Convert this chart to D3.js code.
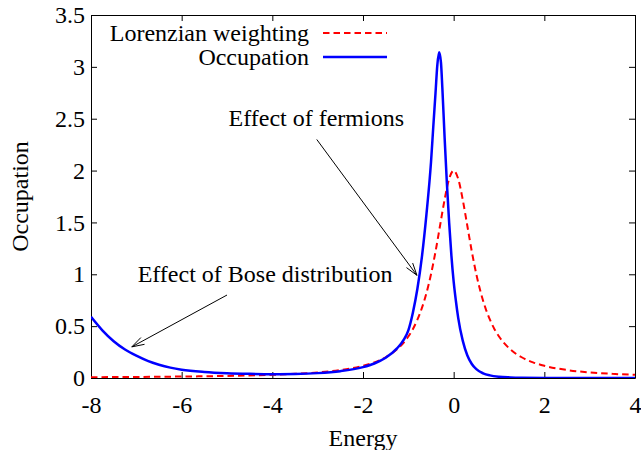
<!DOCTYPE html>
<html>
<head>
<meta charset="utf-8">
<script src="https://cdn.jsdelivr.net/npm/d3@7"></script>
<style>
  html, body { margin: 0; padding: 0; background: #fff; }
  svg { display: block; }
</style>
</head>
<body>
<svg id="chart" width="641" height="450"></svg>
<script>
// ---- data ----
const xTicks = [-8, -6, -4, -2, 0, 2, 4];
const xTickLabels = ["-8", "-6", "-4", "-2", "0", "2", "4"];
const yTicks = [0, 0.5, 1, 1.5, 2, 2.5, 3, 3.5];
const yTickLabels = ["0", "0.5", "1", "1.5", "2", "2.5", "3", "3.5"];

const seriesNames = ["Lorenzian weighting", "Occupation"];

const lorentzE = [-8, -7, -6, -5, -4, -3.5, -3, -2.5, -2, -1.75, -1.5, -1.25, -1, -0.9, -0.8, -0.7, -0.6, -0.5, -0.4, -0.3, -0.2, -0.1, 0,
                  0.1, 0.2, 0.3, 0.4, 0.5, 0.6, 0.7, 0.8, 0.9, 1, 1.25, 1.5, 1.75, 2, 2.5, 3, 3.5, 4];
const lorentzV = [0.008, 0.010, 0.014, 0.020, 0.031, 0.040, 0.054, 0.077, 0.118, 0.151, 0.200, 0.276, 0.400, 0.471, 0.562, 0.676, 0.820, 1.000, 1.220, 1.470, 1.720, 1.920, 2.000,
                  1.920, 1.720, 1.470, 1.220, 1.000, 0.820, 0.676, 0.562, 0.471, 0.400, 0.276, 0.200, 0.151, 0.118, 0.077, 0.054, 0.040, 0.031];

const occE = [-8, -7.75, -7.5, -7.25, -7, -6.75, -6.5, -6.25, -6, -5.5, -5, -4.5, -4, -3.5, -3, -2.5, -2, -1.75, -1.5, -1.25, -1.1, -1, -0.9, -0.8, -0.7, -0.6, -0.5,
              -0.45, -0.4, -0.36, -0.32, -0.28, -0.25, -0.2, -0.15, -0.1, -0.05, 0, 0.05, 0.1, 0.2, 0.3, 0.4, 0.5, 0.65, 0.8, 1, 1.25, 1.5, 2, 3, 4];
const occV = [0.59, 0.46, 0.355, 0.275, 0.215, 0.165, 0.128, 0.100, 0.080, 0.058, 0.046, 0.040, 0.037, 0.039, 0.047, 0.066, 0.105, 0.140, 0.195, 0.285, 0.370, 0.460, 0.630, 0.860, 1.170, 1.580, 2.080,
              2.420, 2.750, 3.020, 3.140, 3.040, 2.800, 2.320, 1.880, 1.500, 1.180, 0.930, 0.740, 0.580, 0.360, 0.220, 0.135, 0.085, 0.045, 0.025, 0.012, 0.006, 0.003, 0.001, 0.0003, 0.0001];

// annotations: text anchor (data coords) and arrows [fromE, fromV, toE, toV]
const noteTexts = ["Effect of fermions", "Effect of Bose distribution"];
const notePos = [[-3.03, 2.43], [-4.16, 0.93]];
const arrowFrom = [[-3.02, 2.30], [-5.0, 0.80]];
const arrowTo = [[-0.81, 0.99], [-7.10, 0.30]];

// ---- layout ----
const W = 641, H = 450;
const L = 91, R = 635, T = 15, B = 378;
const FONT = '"Liberation Serif", "Times New Roman", Times, serif';
const FS = 24;

const svg = d3.select("#chart");
svg.append("rect").attr("width", W).attr("height", H).attr("fill", "#fff");

const x = d3.scaleLinear().domain([-8, 4]).range([L, R]);
const y = d3.scaleLinear().domain([0, 3.5]).range([B, T]);

const styleAxis = g => {
  g.selectAll("path.domain").attr("stroke", "#000").attr("stroke-width", 1);
  g.selectAll(".tick line").attr("stroke", "#000").attr("stroke-width", 1);
  g.selectAll(".tick text").attr("fill", "#000").style("font-family", FONT).style("font-size", FS + "px");
};

svg.append("g").attr("transform", `translate(0,${B})`)
  .call(d3.axisBottom(x).tickValues(xTicks).tickFormat((d, i) => xTickLabels[i]).tickSizeInner(-6).tickSizeOuter(0).tickPadding(18))
  .call(styleAxis);
svg.append("g").attr("transform", `translate(0,${T})`)
  .call(d3.axisTop(x).tickValues(xTicks).tickFormat("").tickSizeInner(-6).tickSizeOuter(0))
  .call(styleAxis);
svg.append("g").attr("transform", `translate(${L},0)`)
  .call(d3.axisLeft(y).tickValues(yTicks).tickFormat((d, i) => yTickLabels[i]).tickSizeInner(-6).tickSizeOuter(0).tickPadding(6))
  .call(styleAxis);
svg.append("g").attr("transform", `translate(${R},0)`)
  .call(d3.axisRight(y).tickValues(yTicks).tickFormat("").tickSizeInner(-6).tickSizeOuter(0))
  .call(styleAxis);

// clip
svg.append("clipPath").attr("id", "plotclip")
  .append("rect").attr("x", L).attr("y", T).attr("width", R - L).attr("height", B - T);

const line = d3.line().x(d => x(d[0])).y(d => y(d[1])).curve(d3.curveMonotoneX);
const lorentzData = lorentzE.map((e, i) => [e, lorentzV[i]]);
const occData = occE.map((e, i) => [e, occV[i]]);

const plot = svg.append("g").attr("clip-path", "url(#plotclip)");
plot.append("path").datum(lorentzData).attr("d", line)
  .attr("fill", "none").attr("stroke", "#ff0000").attr("stroke-width", 2).attr("stroke-dasharray", "6.5,4");
plot.append("path").datum(occData).attr("d", line)
  .attr("fill", "none").attr("stroke", "#0000ff").attr("stroke-width", 2.5);

// legend
const legend = svg.append("g");
const legY = [33, 57];
const legStyles = [{ c: "#ff0000", w: 2, dash: "6.5,4" }, { c: "#0000ff", w: 2.5, dash: null }];
seriesNames.forEach((name, i) => {
  legend.append("text").attr("x", 309).attr("y", legY[i]).attr("dy", "0.33em")
    .attr("text-anchor", "end").style("font-family", FONT).style("font-size", FS + "px").text(name);
  legend.append("line").attr("x1", 323).attr("x2", 387).attr("y1", legY[i]).attr("y2", legY[i])
    .attr("stroke", legStyles[i].c).attr("stroke-width", legStyles[i].w)
    .attr("stroke-dasharray", legStyles[i].dash);
});

// annotations
noteTexts.forEach((t, i) => {
  svg.append("text").attr("x", x(notePos[i][0])).attr("y", y(notePos[i][1]))
    .attr("text-anchor", "middle").style("font-family", FONT).style("font-size", FS + "px").text(t);
});
arrowFrom.forEach((f, i) => {
  const x1 = x(f[0]), y1 = y(f[1]), x2 = x(arrowTo[i][0]), y2 = y(arrowTo[i][1]);
  const g = svg.append("g").attr("stroke", "#000").attr("stroke-width", 1).attr("fill", "none");
  g.append("line").attr("x1", x1).attr("y1", y1).attr("x2", x2).attr("y2", y2);
  const ang = Math.atan2(y2 - y1, x2 - x1);
  const hl = 13, ha = 0.30;
  const p1 = [x2 - hl * Math.cos(ang - ha), y2 - hl * Math.sin(ang - ha)];
  const p2 = [x2 - hl * Math.cos(ang + ha), y2 - hl * Math.sin(ang + ha)];
  g.append("path").attr("d", `M${p1[0]},${p1[1]}L${x2},${y2}L${p2[0]},${p2[1]}`);
});

// axis titles
svg.append("text").attr("x", (L + R) / 2).attr("y", 446).attr("text-anchor", "middle")
  .style("font-family", FONT).style("font-size", FS + "px").text("Energy");
svg.append("text").attr("transform", `translate(28,${(T + B) / 2}) rotate(-90)`).attr("text-anchor", "middle")
  .style("font-family", FONT).style("font-size", FS + "px").text("Occupation");
</script>
</body>
</html>
